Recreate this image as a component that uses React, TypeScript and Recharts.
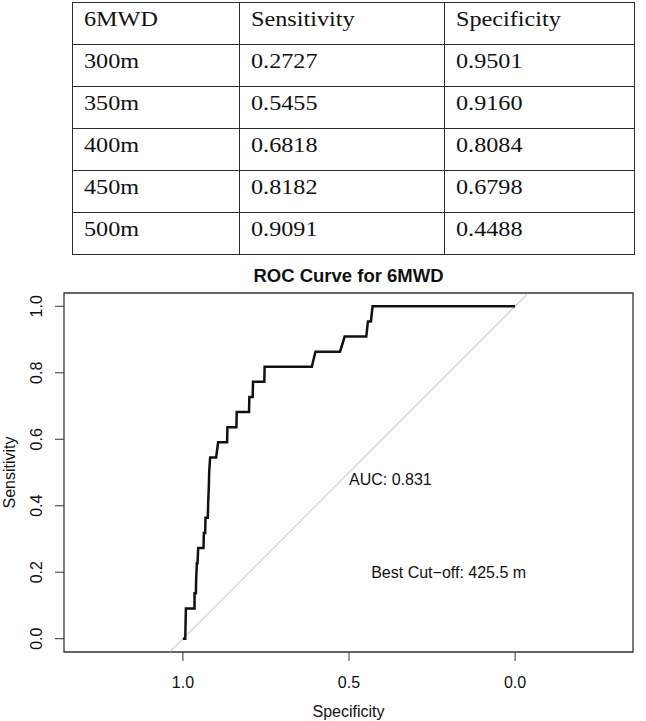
import React from 'react';
import {
  ComposedChart,
  Line,
  XAxis,
  YAxis,
  ReferenceArea,
  ReferenceLine,
  ReferenceDot,
} from 'recharts';

// Cut-off table
const tableHeaders = ['6MWD', 'Sensitivity', 'Specificity'];
const distances = ['300m', '350m', '400m', '450m', '500m'];
const sensitivities = ['0.2727', '0.5455', '0.6818', '0.8182', '0.9091'];
const specificities = ['0.9501', '0.9160', '0.8084', '0.6798', '0.4488'];

// ROC curve vertices (specificity, sensitivity), in drawing order
const rocSpecificity = [
  1.0, 0.993, 0.992, 0.991, 0.965, 0.965, 0.961, 0.96, 0.958, 0.956, 0.954,
  0.938, 0.937, 0.933, 0.932, 0.925, 0.924, 0.922, 0.921, 0.918, 0.9, 0.894,
  0.867, 0.866, 0.839, 0.838, 0.801, 0.8, 0.79, 0.789, 0.755, 0.754, 0.612,
  0.601, 0.527, 0.513, 0.448, 0.443, 0.434, 0.429, 0.0,
];
const rocSensitivity = [
  0.0, 0.0, 0.0455, 0.0909, 0.0909, 0.1364, 0.1364, 0.1818, 0.2273, 0.2273,
  0.2727, 0.2727, 0.3182, 0.3182, 0.3636, 0.3636, 0.4091, 0.4545, 0.5,
  0.5455, 0.5455, 0.5909, 0.5909, 0.6364, 0.6364, 0.6818, 0.6818, 0.7273,
  0.7273, 0.7727, 0.7727, 0.8182, 0.8182, 0.8636, 0.8636, 0.9091, 0.9091,
  0.9545, 0.9545, 1.0, 1.0,
];

const xTicks = [1, 0.5, 0];
const yTicks = [0, 0.2, 0.4, 0.6, 0.8, 1.0];
const xDomain: [number, number] = [-0.355, 1.358];
const yDomain: [number, number] = [-0.04, 1.04];

const chartTitle = 'ROC Curve for 6MWD';
const xTitle = 'Specificity';
const yTitle = 'Sensitivity';
const aucLabel = { spec: 0.5, sens: 0.5, text: 'AUC: 0.831' };
const cutoffLabel = { spec: 0.2, sens: 0.2, text: 'Best Cut\u2212off: 425.5 m' };

const rocData = rocSpecificity.map((spec, i) => ({ spec, sens: rocSensitivity[i] }));

const SANS = '"Liberation Sans", Arial, Helvetica, sans-serif';
const SERIF = '"Liberation Serif", "Times New Roman", Times, serif';
const INK = '#111';

const colWidths = [167, 205, 190];

const cellStyle = (col: number): React.CSSProperties => ({
  boxSizing: 'border-box',
  width: colWidths[col],
  height: 42,
  borderRight: '1.5px solid #2b2b2b',
  borderBottom: '1.5px solid #2b2b2b',
  paddingLeft: 11,
  paddingTop: 5,
  fontFamily: SERIF,
  fontSize: 22,
  lineHeight: '22px',
  color: INK,
  whiteSpace: 'nowrap',
});

const CutoffTable = () => {
  const rows = [tableHeaders, ...distances.map((d, i) => [d, sensitivities[i], specificities[i]])];
  return (
    <div
      style={{
        position: 'absolute',
        left: 72,
        top: 2,
        display: 'grid',
        gridTemplateColumns: colWidths.map((w) => `${w}px`).join(' '),
        borderTop: '1.5px solid #2b2b2b',
        borderLeft: '1.5px solid #2b2b2b',
      }}
    >
      {rows.map((row, r) =>
        row.map((cell, c) => (
          <div key={`${r}-${c}`} style={cellStyle(c)}>
            <span
              style={{
                display: 'inline-block',
                transform: 'scaleX(1.1)',
                transformOrigin: 'left center',
              }}
            >
              {cell}
            </span>
          </div>
        ))
      )}
    </div>
  );
};

const YTick = (props: any) => {
  const { x, y, payload } = props;
  return (
    <text
      x={x}
      y={y}
      transform={`rotate(-90 ${x} ${y})`}
      textAnchor="middle"
      fontFamily={SANS}
      fontSize={16}
      fill={INK}
    >
      {Number(payload.value).toFixed(1)}
    </text>
  );
};

const AucText = (props: any) => (
  <text x={props.cx} y={props.cy + 12} fontFamily={SANS} fontSize={16} fill={INK}>
    {aucLabel.text}
  </text>
);

const CutoffText = (props: any) => (
  <text
    x={props.cx}
    y={props.cy + 6}
    textAnchor="middle"
    fontFamily={SANS}
    fontSize={16}
    fill={INK}
  >
    {cutoffLabel.text}
  </text>
);

export default function App() {
  return (
    <div
      style={{
        position: 'absolute',
        left: 0,
        top: 0,
        width: 646,
        height: 721,
        background: '#fff',
        overflow: 'hidden',
      }}
    >
      <CutoffTable />
      <div style={{ position: 'absolute', left: 0, top: 0 }}>
        <ComposedChart
          width={646}
          height={721}
          data={rocData}
          margin={{ top: 293, right: 13, bottom: 0, left: 0 }}
        >
          <XAxis
            dataKey="spec"
            type="number"
            domain={xDomain}
            allowDataOverflow
            reversed
            ticks={xTicks}
            interval={0}
            tickFormatter={(v: number) => v.toFixed(1)}
            axisLine={false}
            tickSize={9}
            tickMargin={16}
            tickLine={{ stroke: '#333' }}
            tick={{ fontFamily: SANS, fontSize: 16, fill: INK }}
            height={69}
          />
          <YAxis
            type="number"
            domain={yDomain}
            allowDataOverflow
            ticks={yTicks}
            interval={0}
            axisLine={false}
            tickSize={9}
            tickMargin={13}
            tickLine={{ stroke: '#333' }}
            tick={<YTick />}
            width={64}
          />
          <ReferenceArea
            x1={xDomain[0]}
            x2={xDomain[1]}
            y1={yDomain[0]}
            y2={yDomain[1]}
            fill="none"
            fillOpacity={0}
            stroke="#333"
            strokeWidth={1.3}
            ifOverflow="visible"
          />
          <ReferenceLine
            segment={[
              { x: 1.04, y: -0.04 },
              { x: -0.04, y: 1.04 },
            ]}
            stroke="#a7b5b2"
            strokeWidth={1}
            ifOverflow="visible"
          />
          <Line
            dataKey="sens"
            type="linear"
            stroke={INK}
            strokeWidth={2.5}
            dot={false}
            activeDot={false}
            isAnimationActive={false}
          />
          <ReferenceDot
            x={aucLabel.spec}
            y={aucLabel.sens}
            r={0}
            shape={<AucText />}
            ifOverflow="visible"
          />
          <ReferenceDot
            x={cutoffLabel.spec}
            y={cutoffLabel.sens}
            r={0}
            shape={<CutoffText />}
            ifOverflow="visible"
          />
        </ComposedChart>
      </div>
      <svg
        width={646}
        height={721}
        style={{ position: 'absolute', left: 0, top: 0, pointerEvents: 'none' }}
      >
        <text
          x={348.5}
          y={281.5}
          textAnchor="middle"
          fontFamily={SANS}
          fontWeight="bold"
          fontSize={18.5}
          fill={INK}
        >
          {chartTitle}
        </text>
        <text x={348.5} y={717} textAnchor="middle" fontFamily={SANS} fontSize={16} fill={INK}>
          {xTitle}
        </text>
        <text
          x={14.5}
          y={472.5}
          transform="rotate(-90 14.5 472.5)"
          textAnchor="middle"
          fontFamily={SANS}
          fontSize={16}
          fill={INK}
        >
          {yTitle}
        </text>
      </svg>
    </div>
  );
}
